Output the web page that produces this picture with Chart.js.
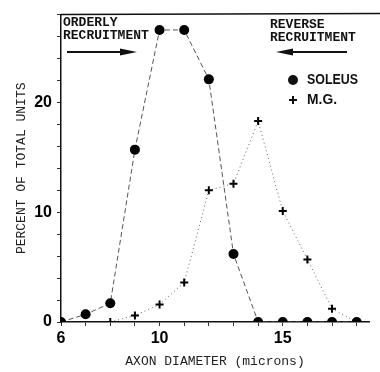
<!DOCTYPE html>
<html>
<head>
<meta charset="utf-8">
<script src="https://cdn.jsdelivr.net/npm/chart.js@4"></script>
<style>
  html, body { margin: 0; padding: 0; background: #fff; }
  #wrap { width: 380px; height: 372px; position: relative; }
</style>
</head>
<body>
<div id="wrap"><canvas id="chart"></canvas></div>
<script>
// values
var diameters = [6, 7, 8, 9, 10, 11, 12, 13, 14, 15, 16, 17, 18];
var soleus = [0, 0.7, 1.7, 15.7, 26.6, 26.6, 22.1, 6.2, 0, 0, 0, 0, 0];
var mg = [null, null, 0, 0.6, 1.6, 3.6, 12.0, 12.6, 18.3, 10.1, 5.7, 1.2, 0];
var xTickLabels = [6, 10, 15];
var yTickLabels = [0, 10, 20];

var toPoints = function (ys) {
    return diameters.map(function (x, i) { return { x: x, y: ys[i] }; });
};

var drawArrow = function (ctx, x1, x2, y) {
    // arrow from x1 to the tip at x2
    var dir = x2 > x1 ? 1 : -1;
    ctx.beginPath();
    ctx.lineWidth = 2;
    ctx.moveTo(x1, y);
    ctx.lineTo(x2 - dir * 14, y);
    ctx.stroke();
    ctx.beginPath();
    ctx.moveTo(x2, y);
    ctx.lineTo(x2 - dir * 17, y - 3.5);
    ctx.lineTo(x2 - dir * 17, y + 3.5);
    ctx.closePath();
    ctx.fill();
};

var extras = {
    id: 'extras',
    afterDraw: function (chart) {
        var ctx = chart.ctx;
        var area = chart.chartArea;
        ctx.save();
        ctx.strokeStyle = '#111';
        ctx.fillStyle = '#111';

        // top frame line
        ctx.beginPath();
        ctx.lineWidth = 1.5;
        ctx.moveTo(area.left, area.top);
        ctx.lineTo(380, area.top - 1);
        ctx.stroke();

        // annotations
        ctx.font = 'bold 13px "Liberation Mono"';
        ctx.textBaseline = 'alphabetic';
        ctx.textAlign = 'left';
        ctx.fillText('ORDERLY', 63, 26);
        ctx.fillText('RECRUITMENT', 63, 39);
        ctx.fillText('REVERSE', 270, 28);
        ctx.fillText('RECRUITMENT', 270, 41);
        drawArrow(ctx, 67, 137, 52);
        drawArrow(ctx, 347, 276, 52);

        // legend
        ctx.beginPath();
        ctx.arc(293, 80, 5, 0, Math.PI * 2);
        ctx.fill();
        ctx.beginPath();
        ctx.lineWidth = 2;
        ctx.moveTo(289, 100); ctx.lineTo(297, 100);
        ctx.moveTo(293, 96); ctx.lineTo(293, 104);
        ctx.stroke();
        ctx.font = 'bold 15px "Liberation Sans"';
        ctx.textBaseline = 'middle';
        var items = [['SOLEUS', 80, 51], ['M.G.', 100, 30]];
        items.forEach(function (it) {
            var w = ctx.measureText(it[0]).width;
            ctx.save();
            ctx.translate(307, it[1]);
            ctx.scale(it[2] / w, 1);
            ctx.fillText(it[0], 0, 0);
            ctx.restore();
        });
        ctx.restore();
    }
};

var ctx = document.getElementById('chart').getContext('2d');
new Chart(ctx, {
    type: 'line',
    data: {
        datasets: [{
            label: 'SOLEUS',
            data: toPoints(soleus),
            borderColor: '#555',
            borderWidth: 1,
            borderDash: [5, 3],
            pointRadius: 5,
            pointBackgroundColor: '#000',
            pointBorderColor: '#000',
            pointBorderWidth: 0,
            tension: 0
        }, {
            label: 'M.G.',
            data: toPoints(mg),
            borderColor: '#666',
            borderWidth: 1,
            borderDash: [1, 3],
            pointStyle: 'cross',
            pointRadius: 4,
            pointBorderColor: '#000',
            pointBorderWidth: 2,
            tension: 0
        }]
    },
    options: {
        responsive: true,
        maintainAspectRatio: false,
        animation: false,
        layout: { padding: { top: 9, right: 11, left: 0, bottom: 0 } },
        plugins: { legend: { display: false }, tooltip: { enabled: false } },
        scales: {
            x: {
                type: 'linear',
                min: 6,
                max: 18.5,
                afterFit: function (s) { s.height = 50; },
                border: { display: true, color: '#111', width: 1.5 },
                grid: { drawOnChartArea: false, tickLength: 4, color: '#333' },
                ticks: {
                    stepSize: 1,
                    includeBounds: false,
                    maxRotation: 0,
                    autoSkip: false,
                    padding: 3,
                    color: '#000',
                    font: { family: 'Liberation Sans', size: 16, weight: 'bold' },
                    callback: function (v) { return xTickLabels.indexOf(v) >= 0 ? String(v) : ''; }
                },
                title: {
                    display: true,
                    text: 'AXON DIAMETER (microns)',
                    color: '#222',
                    font: { family: 'Liberation Mono', size: 13 },
                    padding: { top: 0, bottom: 3 }
                }
            },
            y: {
                min: 0,
                max: 28,
                afterFit: function (s) { s.width = 61; },
                border: { display: true, color: '#111', width: 1.5 },
                grid: { drawOnChartArea: false, tickLength: 4, color: '#333' },
                ticks: {
                    stepSize: 2,
                    includeBounds: false,
                    autoSkip: false,
                    padding: 5,
                    color: '#000',
                    font: { family: 'Liberation Sans', size: 16, weight: 'bold' },
                    callback: function (v) { return yTickLabels.indexOf(v) >= 0 ? String(v) : ''; }
                },
                title: {
                    display: true,
                    text: 'PERCENT OF TOTAL UNITS',
                    color: '#222',
                    font: { family: 'Liberation Mono', size: 13 },
                    padding: { top: 14, bottom: 0 }
                }
            }
        }
    },
    plugins: [extras]
});
</script>
</body>
</html>
